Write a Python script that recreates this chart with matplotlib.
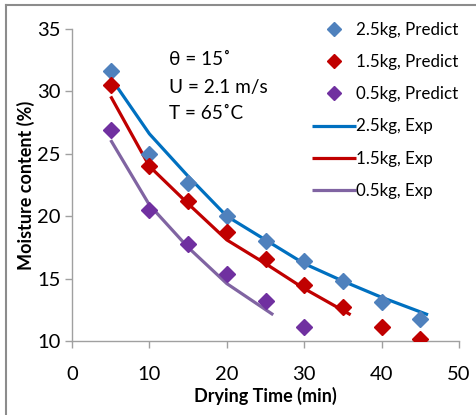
import matplotlib
matplotlib.use("Agg")
import matplotlib.pyplot as plt
from matplotlib.lines import Line2D

plt.rcParams['font.family'] = ['Lato', 'DejaVu Sans']

# Predicted values (diamond markers)
t_pred_25 = [5, 10, 15, 20, 25, 30, 35, 40, 45]
mc_pred_25 = [31.6, 25.0, 22.7, 20.0, 18.0, 16.4, 14.8, 13.1, 11.8]
t_pred_15 = [5, 10, 15, 20, 25, 30, 35, 40, 45]
mc_pred_15 = [30.5, 24.0, 21.2, 18.7, 16.6, 14.5, 12.7, 11.1, 10.2]
t_pred_05 = [5, 10, 15, 20, 25, 30]
mc_pred_05 = [26.9, 20.5, 17.8, 15.4, 13.2, 11.1]

# Experimental values (lines)
t_exp_25 = [5, 10, 15, 20, 25, 30, 35, 40, 46]
mc_exp_25 = [31.1, 26.6, 23.2, 20.0, 18.1, 16.2, 14.8, 13.5, 12.1]
t_exp_15 = [5, 10, 15, 20, 25, 30, 36]
mc_exp_15 = [29.6, 24.0, 21.0, 18.1, 16.2, 14.2, 12.1]
t_exp_05 = [5, 10, 15, 20, 26]
mc_exp_05 = [26.1, 20.9, 17.5, 14.6, 12.1]

x_ticks = [0, 10, 20, 30, 40, 50]
y_ticks = [10, 15, 20, 25, 30, 35]
annot_lines = ['θ = 15˚', 'U = 2.1 m/s', 'T = 65˚C']

fig = plt.figure(figsize=(4.76, 4.15), dpi=100)
ax = fig.add_axes([72/476, 1-341/415, (459-72)/476, (341-29)/415])

c_b_m, c_r_m, c_p_m = '#4F81BD', '#C00000', '#7030A0'
c_b_l, c_r_l, c_p_l = '#0070C0', '#C00000', '#8064A2'

ms = 7.8
ax.plot(t_pred_25, mc_pred_25, ls='none', marker='D', ms=ms, color=c_b_m, label='2.5kg, Predict', zorder=3)
ax.plot(t_pred_15, mc_pred_15, ls='none', marker='D', ms=ms, color=c_r_m, label='1.5kg, Predict', zorder=3)
ax.plot(t_pred_05, mc_pred_05, ls='none', marker='D', ms=ms, color=c_p_m, label='0.5kg, Predict', zorder=3)
lw = 2.3
ax.plot(t_exp_25, mc_exp_25, color=c_b_l, lw=lw, label='2.5kg, Exp', zorder=2, solid_capstyle='butt')
ax.plot(t_exp_15, mc_exp_15, color=c_r_l, lw=lw, label='1.5kg, Exp', zorder=2, solid_capstyle='butt')
ax.plot(t_exp_05, mc_exp_05, color=c_p_l, lw=lw, label='0.5kg, Exp', zorder=2, solid_capstyle='butt')

ax.set_xlim(0, 50)
ax.set_ylim(10, 35)
ax.set_xticks(x_ticks)
ax.set_yticks(y_ticks)
for s in ['top', 'right']:
    ax.spines[s].set_visible(False)
for s in ['left', 'bottom']:
    ax.spines[s].set_color('#A0A0A0')
    ax.spines[s].set_linewidth(1)
ax.tick_params(axis='both', colors='#A0A0A0', length=5, width=1, labelcolor='black', labelsize=14.5)
ax.tick_params(axis='x', pad=13)
ax.tick_params(axis='y', pad=3)

ax.set_xlabel('Drying Time (min)', fontsize=13, fontweight='bold', labelpad=3)
ax.set_ylabel('Moisture content (%)', fontsize=13, fontweight='bold', labelpad=2)

for txt, yf in zip(annot_lines, [0.901, 0.814, 0.728]):
    ax.text(0.251, yf, txt, transform=ax.transAxes, fontsize=13.7, va='center', ha='left')

leg = ax.legend(loc='upper right', bbox_to_anchor=(1.03, 1.06), frameon=False, fontsize=12.2,
                handlelength=2.6, handletextpad=0.0, labelspacing=0.95, borderpad=0.2,
                markerscale=0.85)

# outer chart frame (left & top visible)
fig.add_artist(Line2D([6/476, 6/476], [0, 1-5/415], color='#8C8C8C', lw=1.5, transform=fig.transFigure))
fig.add_artist(Line2D([6/476, 1], [1-5/415, 1-5/415], color='#8C8C8C', lw=1.5, transform=fig.transFigure))

fig.savefig('out.png', dpi=100)
